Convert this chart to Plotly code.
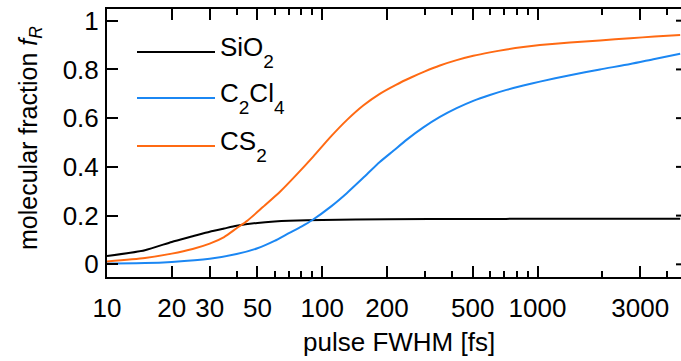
import plotly.graph_objects as go

# SiO2: pulse duration (FWHM, fs) and molecular fraction f_R
t_sio2 = [10, 15, 20, 25, 30, 35, 40, 50, 60, 70, 100, 200, 500, 1000, 4600]
f_sio2 = [0.034, 0.058, 0.092, 0.115, 0.134, 0.147, 0.158, 0.170, 0.176, 0.179,
          0.182, 0.185, 0.186, 0.187, 0.187]

# C2Cl4
t_c2cl4 = [10, 15, 20, 30, 40, 50, 60, 70, 80, 90, 110, 130, 155, 185, 214, 247, 295,
           352, 421, 503, 601, 718, 859, 1026, 1415, 1950, 2700, 3500, 4600]
f_c2cl4 = [0.003, 0.005, 0.010, 0.023, 0.042, 0.066, 0.096, 0.128, 0.155, 0.182, 0.238,
           0.292, 0.355, 0.420, 0.466, 0.512, 0.562, 0.605, 0.641, 0.671, 0.695, 0.716,
           0.734, 0.750, 0.776, 0.800, 0.822, 0.843, 0.864]

# CS2
t_cs2 = [10, 15, 20, 25, 30, 35, 40, 45, 53, 64, 76, 91, 109, 130, 155, 185, 220, 260,
         300, 352, 421, 503, 601, 718, 859, 1026, 1415, 1950, 2700, 3500, 4600]
f_cs2 = [0.012, 0.026, 0.044, 0.063, 0.085, 0.112, 0.148, 0.180, 0.235, 0.300, 0.368,
         0.443, 0.522, 0.592, 0.652, 0.700, 0.737, 0.768, 0.792, 0.816, 0.838, 0.856,
         0.870, 0.882, 0.892, 0.900, 0.911, 0.919, 0.928, 0.935, 0.941]

SUB = '<span style="font-size:19px;baseline-shift:-12px">{}</span>'
series_names = ["SiO" + SUB.format("2"),
                "C" + SUB.format("2") + "Cl" + SUB.format("4"),
                "CS" + SUB.format("2")]
series_x = [t_sio2, t_c2cl4, t_cs2]
series_y = [f_sio2, f_c2cl4, f_cs2]
series_colors = ["#000000", "#1B87F3", "#FF6A13"]

x_major = [10, 20, 30, 50, 100, 200, 500, 1000, 3000]
x_major_text = ["10", "20", "30", "50", "100", "200", "500", "1000", "3000"]
x_minor = [40, 60, 70, 80, 90, 300, 400, 600, 700, 800, 900, 2000, 4000]
y_ticks = [0, 0.2, 0.4, 0.6, 0.8, 1.0]
y_text = ["0", "0.2", "0.4", "0.6", "0.8", "1"]

W, H = 681, 361
ML, MR, MT, MB = 107, 0, 9, 84
PW, PH = W - ML - MR, H - MT - MB
FONT = "Liberation Sans, Arial, sans-serif"
FS = 26


def px_x(p):
    return (p - ML) / PW


def px_y(p):
    return (H - MB - p) / PH


fig = go.Figure()
for xs, ys, col in zip(series_x, series_y, series_colors):
    fig.add_trace(go.Scatter(x=xs, y=ys, mode="lines",
                             line=dict(color=col, width=2, shape="spline", smoothing=0.6),
                             showlegend=False))

shapes = []
annotations = []

# legend: sample line + label
leg_y = [52, 98, 146]
for name, col, yp in zip(series_names, series_colors, leg_y):
    shapes.append(dict(type="line", xref="paper", yref="paper",
                       x0=px_x(137), x1=px_x(215), y0=px_y(yp), y1=px_y(yp),
                       line=dict(color=col, width=2)))
    annotations.append(dict(text=name, xref="paper", yref="paper",
                            x=px_x(218), y=px_y(yp), xanchor="left", yanchor="middle",
                            showarrow=False, font=dict(size=FS, color="black", family=FONT)))

# short inward ticks along the right edge
for v in y_ticks:
    shapes.append(dict(type="line", xref="x domain", yref="y",
                       x0=1 - 5 / PW, x1=1, y0=v, y1=v,
                       line=dict(color="black", width=2)))

# axis titles
annotations.append(dict(text="pulse FWHM [fs]", xref="paper", yref="paper",
                        x=px_x(398.5), y=px_y(342), xanchor="center", yanchor="middle",
                        showarrow=False, font=dict(size=FS, color="black", family=FONT)))
annotations.append(dict(text="molecular fraction <i>f</i><sub><i>R</i></sub>",
                        xref="paper", yref="paper", textangle=-90,
                        x=px_x(30), y=px_y(138), xanchor="center", yanchor="middle",
                        showarrow=False, font=dict(size=25, color="black", family=FONT)))

fig.update_layout(
    width=W, height=H,
    margin=dict(l=ML, r=MR, t=MT, b=MB, pad=0),
    paper_bgcolor="white", plot_bgcolor="white",
    font=dict(family=FONT, size=FS, color="black"),
    shapes=shapes, annotations=annotations,
    showlegend=False,
)
fig.update_xaxes(type="log", range=[1, 3.6666],
                 tickmode="array", tickvals=x_major, ticktext=x_major_text,
                 ticks="inside", ticklen=11, tickwidth=2, tickcolor="black",
                 showline=True, linecolor="black", linewidth=2, mirror="allticks",
                 showgrid=False, zeroline=False, ticklabelstandoff=7,
                 minor=dict(tickmode="array", tickvals=x_minor, ticks="inside",
                            ticklen=6, tickwidth=2, tickcolor="black", showgrid=False))
fig.update_yaxes(range=[-0.052, 1.048],
                 tickmode="array", tickvals=y_ticks, ticktext=y_text,
                 ticks="inside", ticklen=11, tickwidth=2, tickcolor="black",
                 showline=True, linecolor="black", linewidth=2, mirror=False,
                 showgrid=False, zeroline=False, ticklabelstandoff=1)

fig.write_html("out.html")
